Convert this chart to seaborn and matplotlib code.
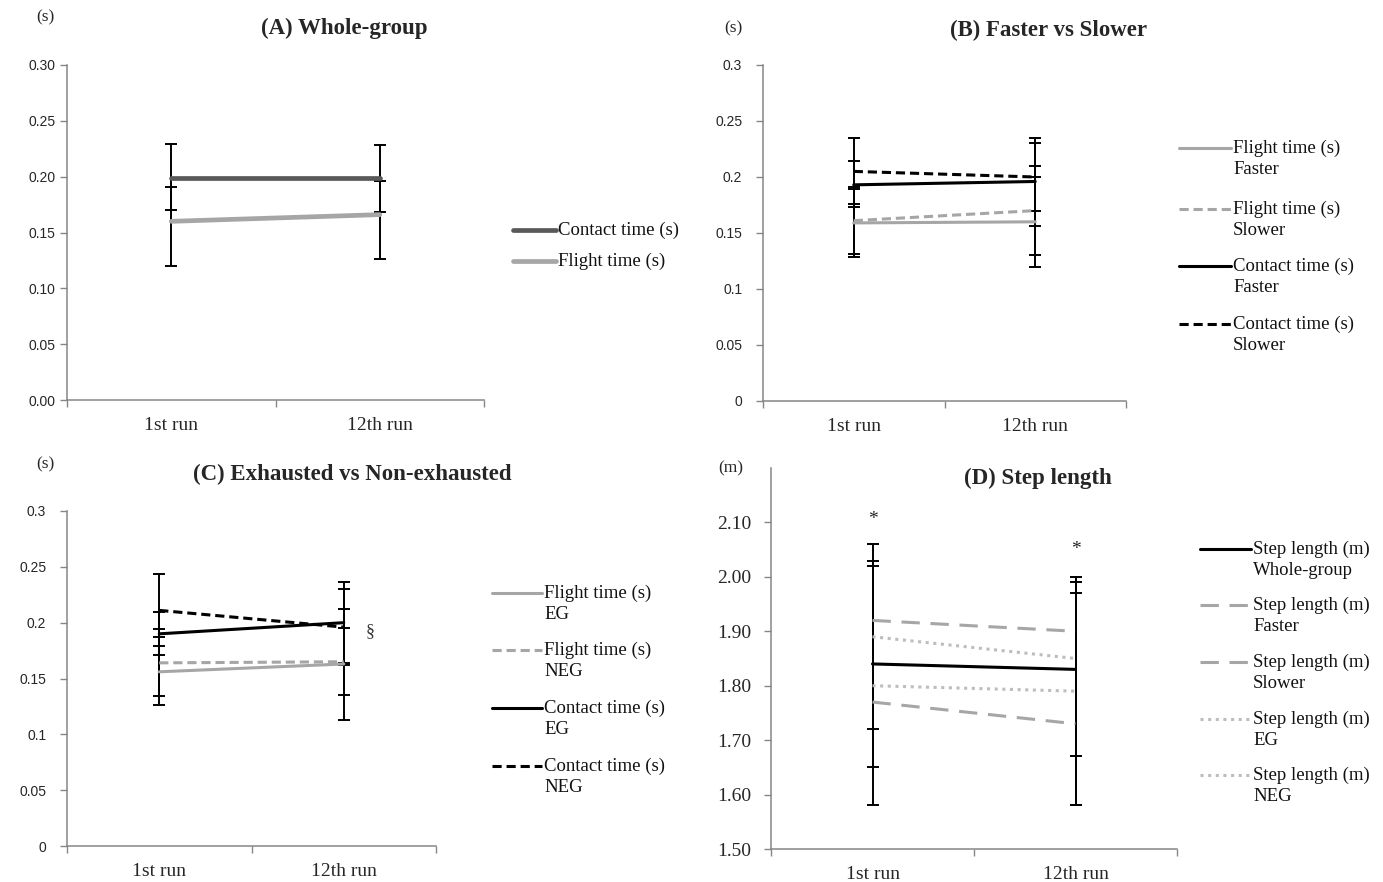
import numpy as np
import pandas as pd
import matplotlib
matplotlib.use("Agg")
import matplotlib.pyplot as plt
import seaborn as sns
from matplotlib.lines import Line2D

# ---------------- data ----------------
runs = ["1st run", "12th run"]

# (A) whole group
a_contact = [0.199, 0.199]
a_contact_lo = [0.170, 0.168]
a_contact_hi = [0.229, 0.228]
a_flight = [0.160, 0.166]
a_flight_lo = [0.120, 0.126]
a_flight_hi = [0.191, 0.196]

# (B) faster vs slower
b_flight_faster = [0.159, 0.160]
b_flight_faster_lo = [0.129, 0.120]
b_flight_faster_hi = [0.189, 0.200]
b_flight_slower = [0.161, 0.170]
b_flight_slower_lo = [0.131, 0.130]
b_flight_slower_hi = [0.191, 0.2095]
b_contact_faster = [0.193, 0.196]
b_contact_faster_lo = [0.173, 0.156]
b_contact_faster_hi = [0.214, 0.2345]
b_contact_slower = [0.205, 0.200]
b_contact_slower_lo = [0.176, 0.170]
b_contact_slower_hi = [0.2345, 0.230]

# (C) exhausted vs non-exhausted
c_flight_eg = [0.156, 0.163]
c_flight_eg_lo = [0.126, 0.135]
c_flight_eg_hi = [0.187, 0.195]
c_flight_neg = [0.164, 0.165]
c_flight_neg_lo = [0.1345, 0.113]
c_flight_neg_hi = [0.194, 0.212]
c_contact_eg = [0.190, 0.200]
c_contact_eg_lo = [0.171, 0.1635]
c_contact_eg_hi = [0.2095, 0.2365]
c_contact_neg = [0.211, 0.196]
c_contact_neg_lo = [0.179, 0.162]
c_contact_neg_hi = [0.244, 0.230]

# (D) step length
d_whole = [1.84, 1.83]
d_whole_lo = [1.58, 1.58]
d_whole_hi = [2.06, 2.00]
d_faster = [1.92, 1.90]
d_faster_lo = [1.72, 1.67]
d_faster_hi = [2.03, 1.99]
d_slower = [1.77, 1.73]
d_slower_lo = [1.65, 1.58]
d_slower_hi = [2.02, 1.97]
d_eg = [1.89, 1.85]
d_neg = [1.80, 1.79]
d_star_y = [2.105, 2.05]

ticks_a = [0.00, 0.05, 0.10, 0.15, 0.20, 0.25, 0.30]
labels_a = ["0.00", "0.05", "0.10", "0.15", "0.20", "0.25", "0.30"]
labels_bc = ["0", "0.05", "0.1", "0.15", "0.2", "0.25", "0.3"]
ticks_d = [1.50, 1.60, 1.70, 1.80, 1.90, 2.00, 2.10]
labels_d = ["1.50", "1.60", "1.70", "1.80", "1.90", "2.00", "2.10"]

# ---------------- styling ----------------
sns.set_theme(style="white")
plt.rcParams["font.family"] = ["Liberation Serif", "DejaVu Serif"]

W, H = 1383, 882
fig = plt.figure(figsize=(W / 100, H / 100), dpi=100)
fig.patch.set_facecolor("white")

AXIS_GREY = "#868686"
DARK = "#595959"
LIGHT = "#a6a6a6"
DOT = "#bdbdbd"
SHORT_DASH = (0, (3, 1.6))
LONG_DASH = (0, (6, 3.5))
DOTTED = (0, (1, 1.5))
TITLE_FS = 16.5
LEGEND_FS = 13.5
CAT_FS = 14
UNIT_FS = 12.5


def px_axes(left, top, right, bottom):
    return fig.add_axes([left / W, 1 - bottom / H, (right - left) / W, (bottom - top) / H])


def draw_series(ax, values, color, ls, lw, lo=None, hi=None):
    df = pd.DataFrame({"run": np.arange(len(runs)), "value": values})
    sns.lineplot(data=df, x="run", y="value", ax=ax, color=color,
                 linewidth=lw, linestyle=ls, legend=False, zorder=3)
    if lo is not None:
        v = np.asarray(values)
        ax.errorbar(df["run"], v, yerr=[v - np.asarray(lo), np.asarray(hi) - v],
                    fmt="none", ecolor="black", elinewidth=1.4,
                    capsize=4.5, capthick=1.4, zorder=2)


def style_axes(ax, ylim, yticks, ylabels, yfont, yfs, ypad):
    ax.set_xlim(-0.5, 1.5)
    ax.set_ylim(*ylim)
    ax.set_xticks([0, 1])
    ax.set_xticklabels(runs, fontsize=CAT_FS)
    ax.set_xticks([-0.5, 0.5, 1.5], minor=True)
    ax.tick_params(axis="x", which="major", length=0, pad=12, bottom=True)
    ax.tick_params(axis="x", which="minor", length=5, width=1, color=AXIS_GREY,
                   direction="out", bottom=True)
    ax.set_yticks(yticks)
    ax.set_yticklabels(ylabels, fontsize=yfs, family=yfont)
    ax.tick_params(axis="y", length=5, width=1, color=AXIS_GREY, direction="out",
                   left=True, pad=ypad)
    for s in ("top", "right"):
        ax.spines[s].set_visible(False)
    for s in ("left", "bottom"):
        ax.spines[s].set_color(AXIS_GREY)
        ax.spines[s].set_linewidth(1.1)
    ax.set_xlabel("")
    ax.set_ylabel("")
    ax.set_facecolor("white")


def legend_px(entries, x0, x1, ys, fs=LEGEND_FS):
    for (label, color, ls, lw), y in zip(entries, ys):
        fig.add_artist(Line2D([x0 / W, x1 / W], [1 - y / H, 1 - y / H],
                              transform=fig.transFigure, color=color,
                              linestyle=ls, linewidth=lw))
        fig.text((x1 + 2) / W, 1 - (y - 8) / H, label, fontsize=fs,
                 va="top", ha="left", linespacing=1.3, color="#111111")


def fig_text(x, y, s, **kw):
    fig.text(x / W, 1 - y / H, s, **kw)


# ---------------- (A) ----------------
axA = px_axes(67, 65, 484, 400)
draw_series(axA, a_contact, DARK, "-", 3.4, a_contact_lo, a_contact_hi)
draw_series(axA, a_flight, LIGHT, "-", 3.4, a_flight_lo, a_flight_hi)
style_axes(axA, (0, 0.30), ticks_a, labels_a, "Liberation Sans", 10, 3.5)
legend_px([("Contact time (s)", DARK, "-", 3.4),
           ("Flight time (s)", LIGHT, "-", 3.4)],
          513, 556, [230, 261])
fig_text(344, 28, "(A) Whole-group", fontsize=TITLE_FS, fontweight="bold", ha="center", va="center")
fig_text(45, 17, "(s)", fontsize=UNIT_FS, ha="center", va="center")

# ---------------- (B) ----------------
axB = px_axes(763, 65, 1126, 401)
draw_series(axB, b_flight_faster, LIGHT, "-", 2.2, b_flight_faster_lo, b_flight_faster_hi)
draw_series(axB, b_flight_slower, LIGHT, SHORT_DASH, 2.2, b_flight_slower_lo, b_flight_slower_hi)
draw_series(axB, b_contact_faster, "black", "-", 2.2, b_contact_faster_lo, b_contact_faster_hi)
draw_series(axB, b_contact_slower, "black", SHORT_DASH, 2.2, b_contact_slower_lo, b_contact_slower_hi)
style_axes(axB, (0, 0.30), ticks_a, labels_bc, "Liberation Sans", 10, 10)
legend_px([("Flight time (s)\nFaster", LIGHT, "-", 2.2),
           ("Flight time (s)\nSlower", LIGHT, SHORT_DASH, 2.2),
           ("Contact time (s)\nFaster", "black", "-", 2.2),
           ("Contact time (s)\nSlower", "black", SHORT_DASH, 2.2)],
          1179, 1231, [148, 209, 266, 324])
fig_text(1048, 30, "(B) Faster vs Slower", fontsize=TITLE_FS, fontweight="bold", ha="center", va="center")
fig_text(733, 28, "(s)", fontsize=UNIT_FS, ha="center", va="center")

# ---------------- (C) ----------------
axC = px_axes(67, 511, 436, 846)
draw_series(axC, c_flight_eg, LIGHT, "-", 2.2, c_flight_eg_lo, c_flight_eg_hi)
draw_series(axC, c_flight_neg, LIGHT, SHORT_DASH, 2.2, c_flight_neg_lo, c_flight_neg_hi)
draw_series(axC, c_contact_eg, "black", "-", 2.2, c_contact_eg_lo, c_contact_eg_hi)
draw_series(axC, c_contact_neg, "black", SHORT_DASH, 2.2, c_contact_neg_lo, c_contact_neg_hi)
style_axes(axC, (0, 0.30), ticks_a, labels_bc, "Liberation Sans", 10, 10)
axC.annotate("§", xy=(1, c_contact_neg[1] - 0.004), xytext=(19, 0),
             textcoords="offset points", fontsize=13, ha="center", va="center",
             color="#333333")
legend_px([("Flight time (s)\nEG", LIGHT, "-", 2.2),
           ("Flight time (s)\nNEG", LIGHT, SHORT_DASH, 2.2),
           ("Contact time (s)\nEG", "black", "-", 2.2),
           ("Contact time (s)\nNEG", "black", SHORT_DASH, 2.2)],
          492, 542, [593, 650, 708, 766])
fig_text(352, 474, "(C) Exhausted vs Non-exhausted", fontsize=TITLE_FS, fontweight="bold", ha="center", va="center")
fig_text(45, 464, "(s)", fontsize=UNIT_FS, ha="center", va="center")

# ---------------- (D) ----------------
axD = px_axes(771, 468, 1177, 849)
draw_series(axD, d_faster, LIGHT, LONG_DASH, 2.2, d_faster_lo, d_faster_hi)
draw_series(axD, d_slower, LIGHT, LONG_DASH, 2.2, d_slower_lo, d_slower_hi)
draw_series(axD, d_eg, DOT, DOTTED, 2.2)
draw_series(axD, d_neg, DOT, DOTTED, 2.2)
draw_series(axD, d_whole, "black", "-", 2.2, d_whole_lo, d_whole_hi)
style_axes(axD, (1.50, 2.20), ticks_d, labels_d, "Liberation Serif", 14, 9)
for i, y in enumerate(d_star_y):
    axD.text(i, y, "*", fontsize=14, ha="center", va="center", color="#222222")
legend_px([("Step length (m)\nWhole-group", "black", "-", 2.2),
           ("Step length (m)\nFaster", LIGHT, LONG_DASH, 2.2),
           ("Step length (m)\nSlower", LIGHT, LONG_DASH, 2.2),
           ("Step length (m)\nEG", DOT, DOTTED, 2.2),
           ("Step length (m)\nNEG", DOT, DOTTED, 2.2)],
          1200, 1251, [549, 605, 662, 719, 775])
fig_text(1038, 478, "(D) Step length", fontsize=TITLE_FS, fontweight="bold", ha="center", va="center")
fig_text(731, 468, "(m)", fontsize=UNIT_FS, ha="center", va="center")

fig.savefig("out.png", dpi=100, facecolor="white")
